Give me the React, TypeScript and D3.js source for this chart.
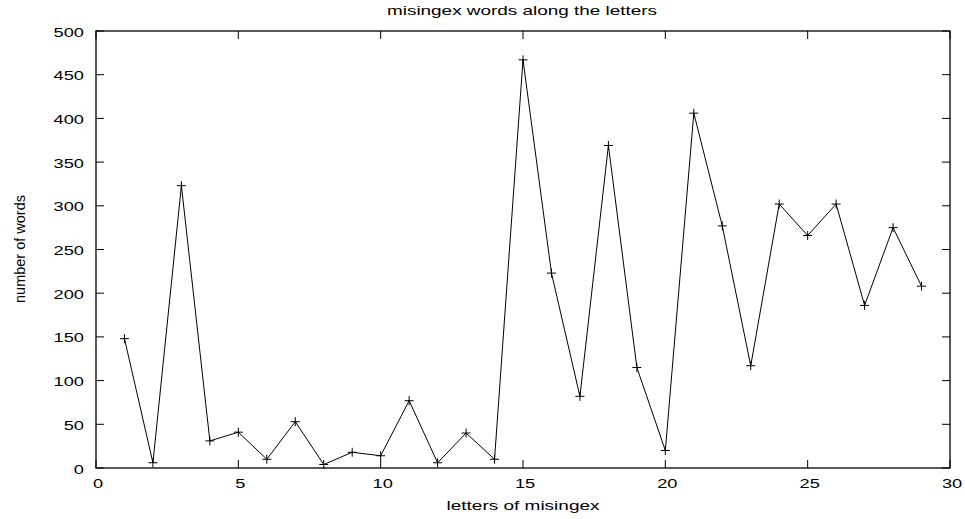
import React from "react";
import * as d3 from "d3";

const letters = d3.range(1, 30);
const words = [148, 6, 323, 31, 41, 10, 53, 4, 18, 14, 77, 6, 40, 10, 467, 223, 82, 369, 115, 20, 406, 277, 117, 302, 266, 302, 186, 275, 208];
const xTicks = [0, 5, 10, 15, 20, 25, 30];
const yTicks = [0, 50, 100, 150, 200, 250, 300, 350, 400, 450, 500];

const W = 965, H = 519;
const L = 96, R = 950, T = 31, B = 468;

export default function App() {
  const x = d3.scaleLinear().domain([0, 30]).range([L, R]);
  const y = d3.scaleLinear().domain([0, 500]).range([B, T]);
  const line = d3.line<number>().x((_, i) => x(letters[i])).y((d) => y(d));
  const font = "'Liberation Sans', Arial, sans-serif";
  const tl = 8;
  const sx = 1.35;
  return (
    <svg width={W} height={H} style={{ position: "absolute", left: 0, top: 0, background: "#fff" }} fontFamily={font}>
      <rect x={0} y={0} width={W} height={H} fill="#fff" />
      <text x={522} y={15} textAnchor="middle" fontSize={13} textLength={270} lengthAdjust="spacingAndGlyphs">misingex words along the letters</text>
      {yTicks.map((t) => (
        <g key={"y" + t}>
          <line x1={L} x2={L + tl} y1={y(t)} y2={y(t)} stroke="#000" />
          <line x1={R} x2={R - tl} y1={y(t)} y2={y(t)} stroke="#000" />
          <text transform={`translate(${L - 12},${y(t) + 5.5}) scale(${sx},1)`} textAnchor="end" fontSize={13.5}>{t}</text>
        </g>
      ))}
      {xTicks.map((t) => (
        <g key={"x" + t}>
          <line x1={x(t)} x2={x(t)} y1={B} y2={B - tl} stroke="#000" />
          <line x1={x(t)} x2={x(t)} y1={T} y2={T + tl} stroke="#000" />
          <text transform={`translate(${x(t) + 2},${B + 20}) scale(${sx},1)`} textAnchor="middle" fontSize={13.5}>{t}</text>
        </g>
      ))}
      <rect x={L} y={T} width={R - L} height={B - T} fill="none" stroke="#000" strokeWidth={1.3} />
      <path d={line(words) || ""} fill="none" stroke="#000" strokeWidth={1} />
      {words.map((v, i) => (
        <g key={"p" + i} stroke="#000" strokeWidth={1}>
          <line x1={x(letters[i]) - 4.5} x2={x(letters[i]) + 4.5} y1={y(v)} y2={y(v)} />
          <line x1={x(letters[i])} x2={x(letters[i])} y1={y(v) - 4.5} y2={y(v) + 4.5} />
        </g>
      ))}
      <text x={523} y={510} textAnchor="middle" fontSize={13.5} textLength={153} lengthAdjust="spacingAndGlyphs">letters of misingex</text>
      <text transform={`translate(25,249) rotate(-90)`} textAnchor="middle" fontSize={15.5} textLength={108} lengthAdjust="spacingAndGlyphs">number of words</text>
    </svg>
  );
}
